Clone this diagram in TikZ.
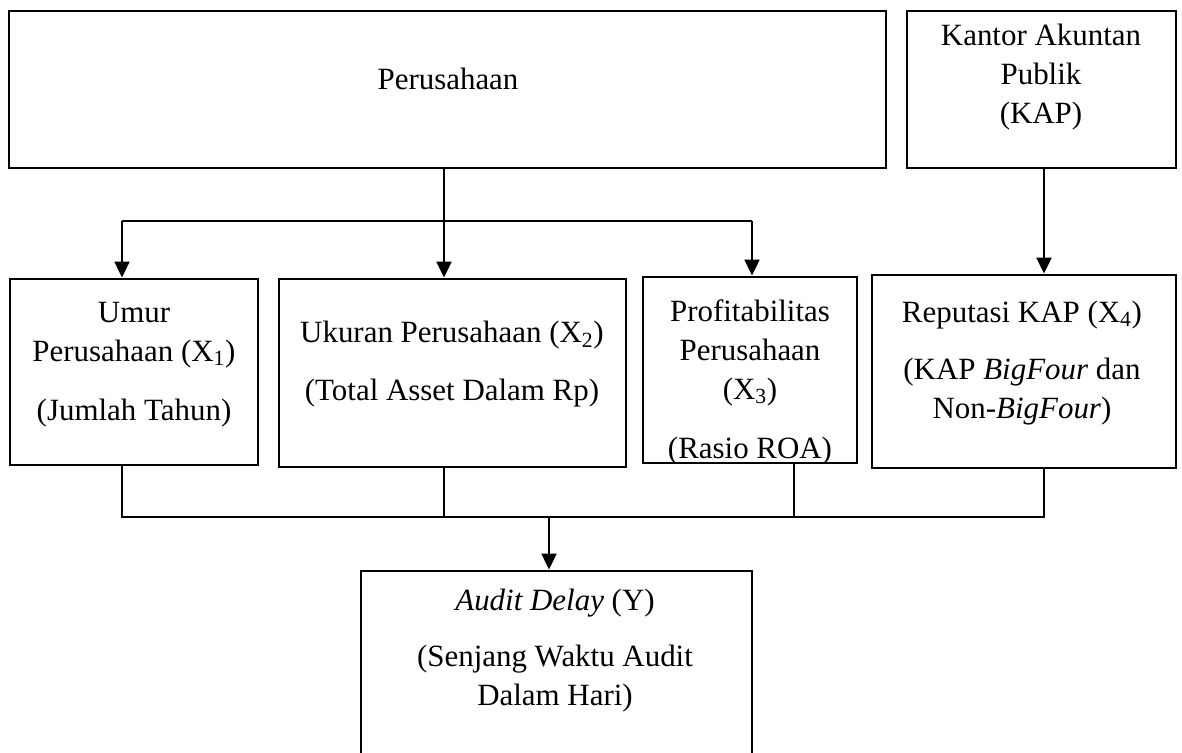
\documentclass[tikz,border=0pt]{standalone}
\usepackage{fontspec}
\setmainfont{Liberation Serif}
\usetikzlibrary{arrows.meta}

\begin{document}
\begin{tikzpicture}[
  x=0.25mm, y=-0.25mm,
  box/.style={draw, line width=0.7mm, inner sep=0pt},
  txt/.style={align=center, anchor=base, inner sep=0pt,
              font=\fontsize{22}{27.6}\selectfont},
  conn/.style={line width=0.32mm},
  arrow/.style={-{Triangle[length=4mm, width=3.7mm]}, line width=0.65mm}
]
  \useasboundingbox (0,0) rectangle (1182,753);
  \clip (0,0) rectangle (1182,753);

  % boxes
  \node[box, minimum width=219.25mm, minimum height=39.25mm] (per) at (447.5,89.5) {};
  \node[box, minimum width=67.25mm, minimum height=39.25mm] (kap) at (1041.5,89.5) {};
  \node[box, minimum width=62mm, minimum height=46.5mm] (umur) at (134,372) {};
  \node[box, minimum width=86.75mm, minimum height=47mm] (ukuran) at (452.5,373) {};
  \node[box, minimum width=53.5mm, minimum height=46.5mm] (profit) at (750,370) {};
  \node[box, minimum width=76mm, minimum height=48.25mm] (reput) at (1024,371.5) {};
  \node[box, minimum width=97.75mm, minimum height=57.25mm] (audit) at (556.5,685.5) {};

  % texts (anchored at the baseline of the last line)
  \node[txt] (per-txt) at (448,90) {Perusahaan};
  \node[txt] (kap-txt) at (1041,123) {Kantor Akuntan\\Publik\\(KAP)};
  \node[txt] (umur-txt) at (134,420) {Umur\\Perusahaan (X\textsubscript{1})\\[14pt](Jumlah Tahun)};
  \node[txt] (ukuran-txt) at (452,400) {Ukuran Perusahaan (X\textsubscript{2})\\[13pt](Total Asset Dalam Rp)};
  \begin{scope}
    \clip (643,277) rectangle (857,461);
    \node[txt] (profit-txt) at (750,458) {Profitabilitas\\Perusahaan\\(X\textsubscript{3})\\[14pt](Rasio ROA)};
  \end{scope}
  \node[txt] (reput-txt) at (1022,418) {Reputasi KAP (X\textsubscript{4})\\[13pt](KAP \textit{BigFour} dan\\Non-\textit{BigFour})};
  \node[txt] (audit-txt) at (555,705) {\textit{Audit Delay} (Y)\\[12pt](Senjang Waktu Audit\\Dalam Hari)};

  % upper connectors
  \coordinate (topL) at (122,221);
  \coordinate (topM) at (444,221);
  \coordinate (topR) at (752,221);
  \coordinate (topK) at (1044,221);
  \draw[conn] (topL) -- (topR);
  \draw[arrow] (per.south -| topM) -- (topM |- ukuran.north);
  \draw[arrow] (topL) -- (topL |- umur.north);
  \draw[arrow] (topR) -- (topR |- profit.north);
  \draw[arrow] (kap.south -| topK) -- (topK |- reput.north);

  % lower connectors
  \coordinate (botL) at (122,517);
  \coordinate (botU) at (444,517);
  \coordinate (botP) at (794,517);
  \coordinate (botR) at (1044,517);
  \coordinate (botM) at (549,517);
  \draw[conn] (umur.south -| botL) -- (botL) -- (botR) -- (reput.south -| botR);
  \draw[conn] (ukuran.south -| botU) -- (botU);
  \draw[conn] (profit.south -| botP) -- (botP);
  \draw[arrow] (botM) -- (botM |- audit.north);
\end{tikzpicture}
\end{document}
